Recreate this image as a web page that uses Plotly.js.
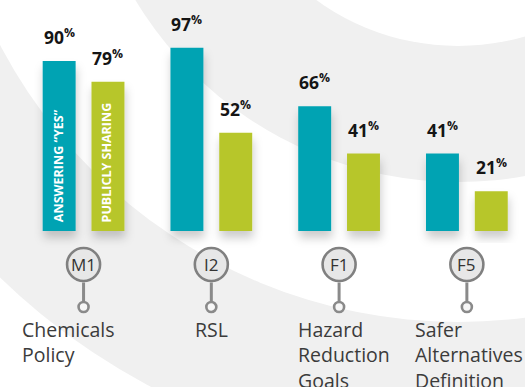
<!DOCTYPE html>
<html>
<head>
<meta charset="utf-8">
<script src="https://cdn.plot.ly/plotly-3.0.1.min.js"></script>
<style>
  html, body { margin: 0; padding: 0; background: #ffffff; }
  #chart { width: 525px; height: 387px; }
</style>
</head>
<body>
<div id="chart"></div>
<script>
// Question codes and the topic each one covers
const codes = ['M1', 'I2', 'F1', 'F5'];
const topics = ['Chemicals<br>Policy', 'RSL', 'Hazard<br>Reduction<br>Goals', 'Safer<br>Alternatives<br>Definition'];

// Share of companies (%) per question
const answeringYes = [90, 97, 66, 41];
const publiclySharing = [79, 52, 41, 21];
const seriesNames = ['ANSWERING \u201cYES\u201d', 'PUBLICLY SHARING'];

// ---- layout constants (pixels of the 525x387 canvas) ----
const W = 525, H = 387;
const TEAL = '#00a3b3', LIME = '#b7c62a', BAND = '#f0f0f0';
const BAR_OFFSET_PX = 24.4;            // half distance between paired bars
const py = p => 1 - p / H;             // canvas pixel row -> paper y
const px = p => p / W;                 // canvas pixel col -> paper x

const traces = [
  { type: 'bar', name: seriesNames[0], x: codes, y: answeringYes,
    marker: { color: TEAL }, hoverinfo: 'skip' },
  { type: 'bar', name: seriesNames[1], x: codes, y: publiclySharing,
    marker: { color: LIME }, hoverinfo: 'skip' }
];

// Background: concentric rings centred above the top-right corner
const ringCenter = { x: px(458), y: py(-195) };
const rings = [
  { r: 658, fill: BAND },
  { r: 517, fill: '#ffffff' },
  { r: 377, fill: BAND },
  { r: 241, fill: '#ffffff' }
];
const shapes = rings.map(ring => ({
  type: 'circle', layer: 'below',
  xref: 'paper', yref: 'paper',
  xsizemode: 'pixel', ysizemode: 'pixel',
  xanchor: ringCenter.x, yanchor: ringCenter.y,
  x0: -ring.r, x1: ring.r, y0: -ring.r, y1: ring.r,
  fillcolor: ring.fill, line: { width: 0 }
}));

// Question badges: ringed code, stem and small end ring
const BADGE_Y = 264.5, STEM_TOP = 282.5, STEM_BOTTOM = 301.5, DOT_Y = 307;
codes.forEach((c, i) => {
  shapes.push({
    type: 'line', layer: 'above', xref: 'x', yref: 'paper',
    xsizemode: 'pixel', xanchor: i, x0: 0, x1: 0,
    y0: py(STEM_TOP), y1: py(STEM_BOTTOM),
    line: { color: '#8a8a8a', width: 3 }
  });
  shapes.push({
    type: 'circle', layer: 'above', xref: 'x', yref: 'paper',
    xsizemode: 'pixel', ysizemode: 'pixel', xanchor: i, yanchor: py(BADGE_Y),
    x0: -16.5, x1: 16.5, y0: -16.5, y1: 16.5,
    fillcolor: '#e7e7e7', line: { color: '#808080', width: 2.6 }
  });
  shapes.push({
    type: 'circle', layer: 'above', xref: 'x', yref: 'paper',
    xsizemode: 'pixel', ysizemode: 'pixel', xanchor: i, yanchor: py(DOT_Y),
    x0: -5, x1: 5, y0: -5, y1: 5,
    fillcolor: '#f7f7f7', line: { color: '#8a8a8a', width: 2.6 }
  });
});

const annotations = [];

// Value labels above each bar, with a small raised percent sign
function valueLabel(i, v, shift) {
  return {
    x: i, xref: 'x', xshift: shift, y: v, yref: 'y',
    yanchor: 'bottom', yshift: 10, showarrow: false,
    text: v + '<sup>%</sup>',
    font: { family: 'Open Sans', size: 17.5, weight: 700, color: '#151515' }
  };
}
codes.forEach((c, i) => {
  annotations.push(valueLabel(i, answeringYes[i], -BAR_OFFSET_PX));
  annotations.push(valueLabel(i, publiclySharing[i], BAR_OFFSET_PX));
  // badge code
  annotations.push({
    x: i, xref: 'x', y: py(BADGE_Y), yref: 'paper', yanchor: 'middle',
    showarrow: false, text: c,
    font: { family: 'Open Sans', size: 17, color: '#333333' }
  });
});

// Series names written up the first pair of bars
[-BAR_OFFSET_PX, BAR_OFFSET_PX].forEach((shift, k) => {
  annotations.push({
    x: 0, xref: 'x', xshift: shift - 0.5, y: py(224), yref: 'paper',
    yanchor: 'bottom', textangle: -90, showarrow: false,
    text: seriesNames[k],
    font: { family: 'Open Sans', size: 12.5, weight: 700, color: '#ffffff' }
  });
});

// Topic names under the badges
const topicLeft = [20, 193, 296, 413];
topics.forEach((t, i) => {
  annotations.push({
    x: px(topicLeft[i]), xref: 'paper', xanchor: 'left', align: 'left',
    y: py(314), yref: 'paper', yanchor: 'top',
    showarrow: false, text: t,
    font: { family: 'Open Sans', size: 19.5, color: '#3b3b3b' }
  });
});

const layout = {
  width: W, height: H,
  margin: { l: 0, r: 0, t: 0, b: 0, pad: 0 },
  paper_bgcolor: '#ffffff', plot_bgcolor: 'rgba(0,0,0,0)',
  showlegend: false,
  barmode: 'group', bargap: 0.236, bargroupgap: 0.325,
  xaxis: { type: 'category', range: [-0.654, 3.455], visible: false, fixedrange: true },
  yaxis: { range: [-82.5, 122.2], visible: false, fixedrange: true },
  shapes: shapes,
  annotations: annotations
};

Plotly.newPlot('chart', traces, layout, { staticPlot: true, displayModeBar: false })
  .then(gd => {
    // soft drop shadow under the bars
    const svg = gd.querySelector('svg.main-svg');
    const ns = 'http://www.w3.org/2000/svg';
    let defs = svg.querySelector('defs');
    if (!defs) { defs = document.createElementNS(ns, 'defs'); svg.prepend(defs); }
    const f = document.createElementNS(ns, 'filter');
    f.setAttribute('id', 'barShadow');
    f.setAttribute('x', '-50%'); f.setAttribute('y', '-20%');
    f.setAttribute('width', '200%'); f.setAttribute('height', '150%');
    const ds = document.createElementNS(ns, 'feDropShadow');
    ds.setAttribute('dx', '1'); ds.setAttribute('dy', '7');
    ds.setAttribute('stdDeviation', '5');
    ds.setAttribute('flood-color', '#000'); ds.setAttribute('flood-opacity', '0.2');
    f.appendChild(ds);
    defs.appendChild(f);
    gd.querySelectorAll('.barlayer .point path').forEach(p => p.setAttribute('filter', 'url(#barShadow)'));
  });
</script>
</body>
</html>
